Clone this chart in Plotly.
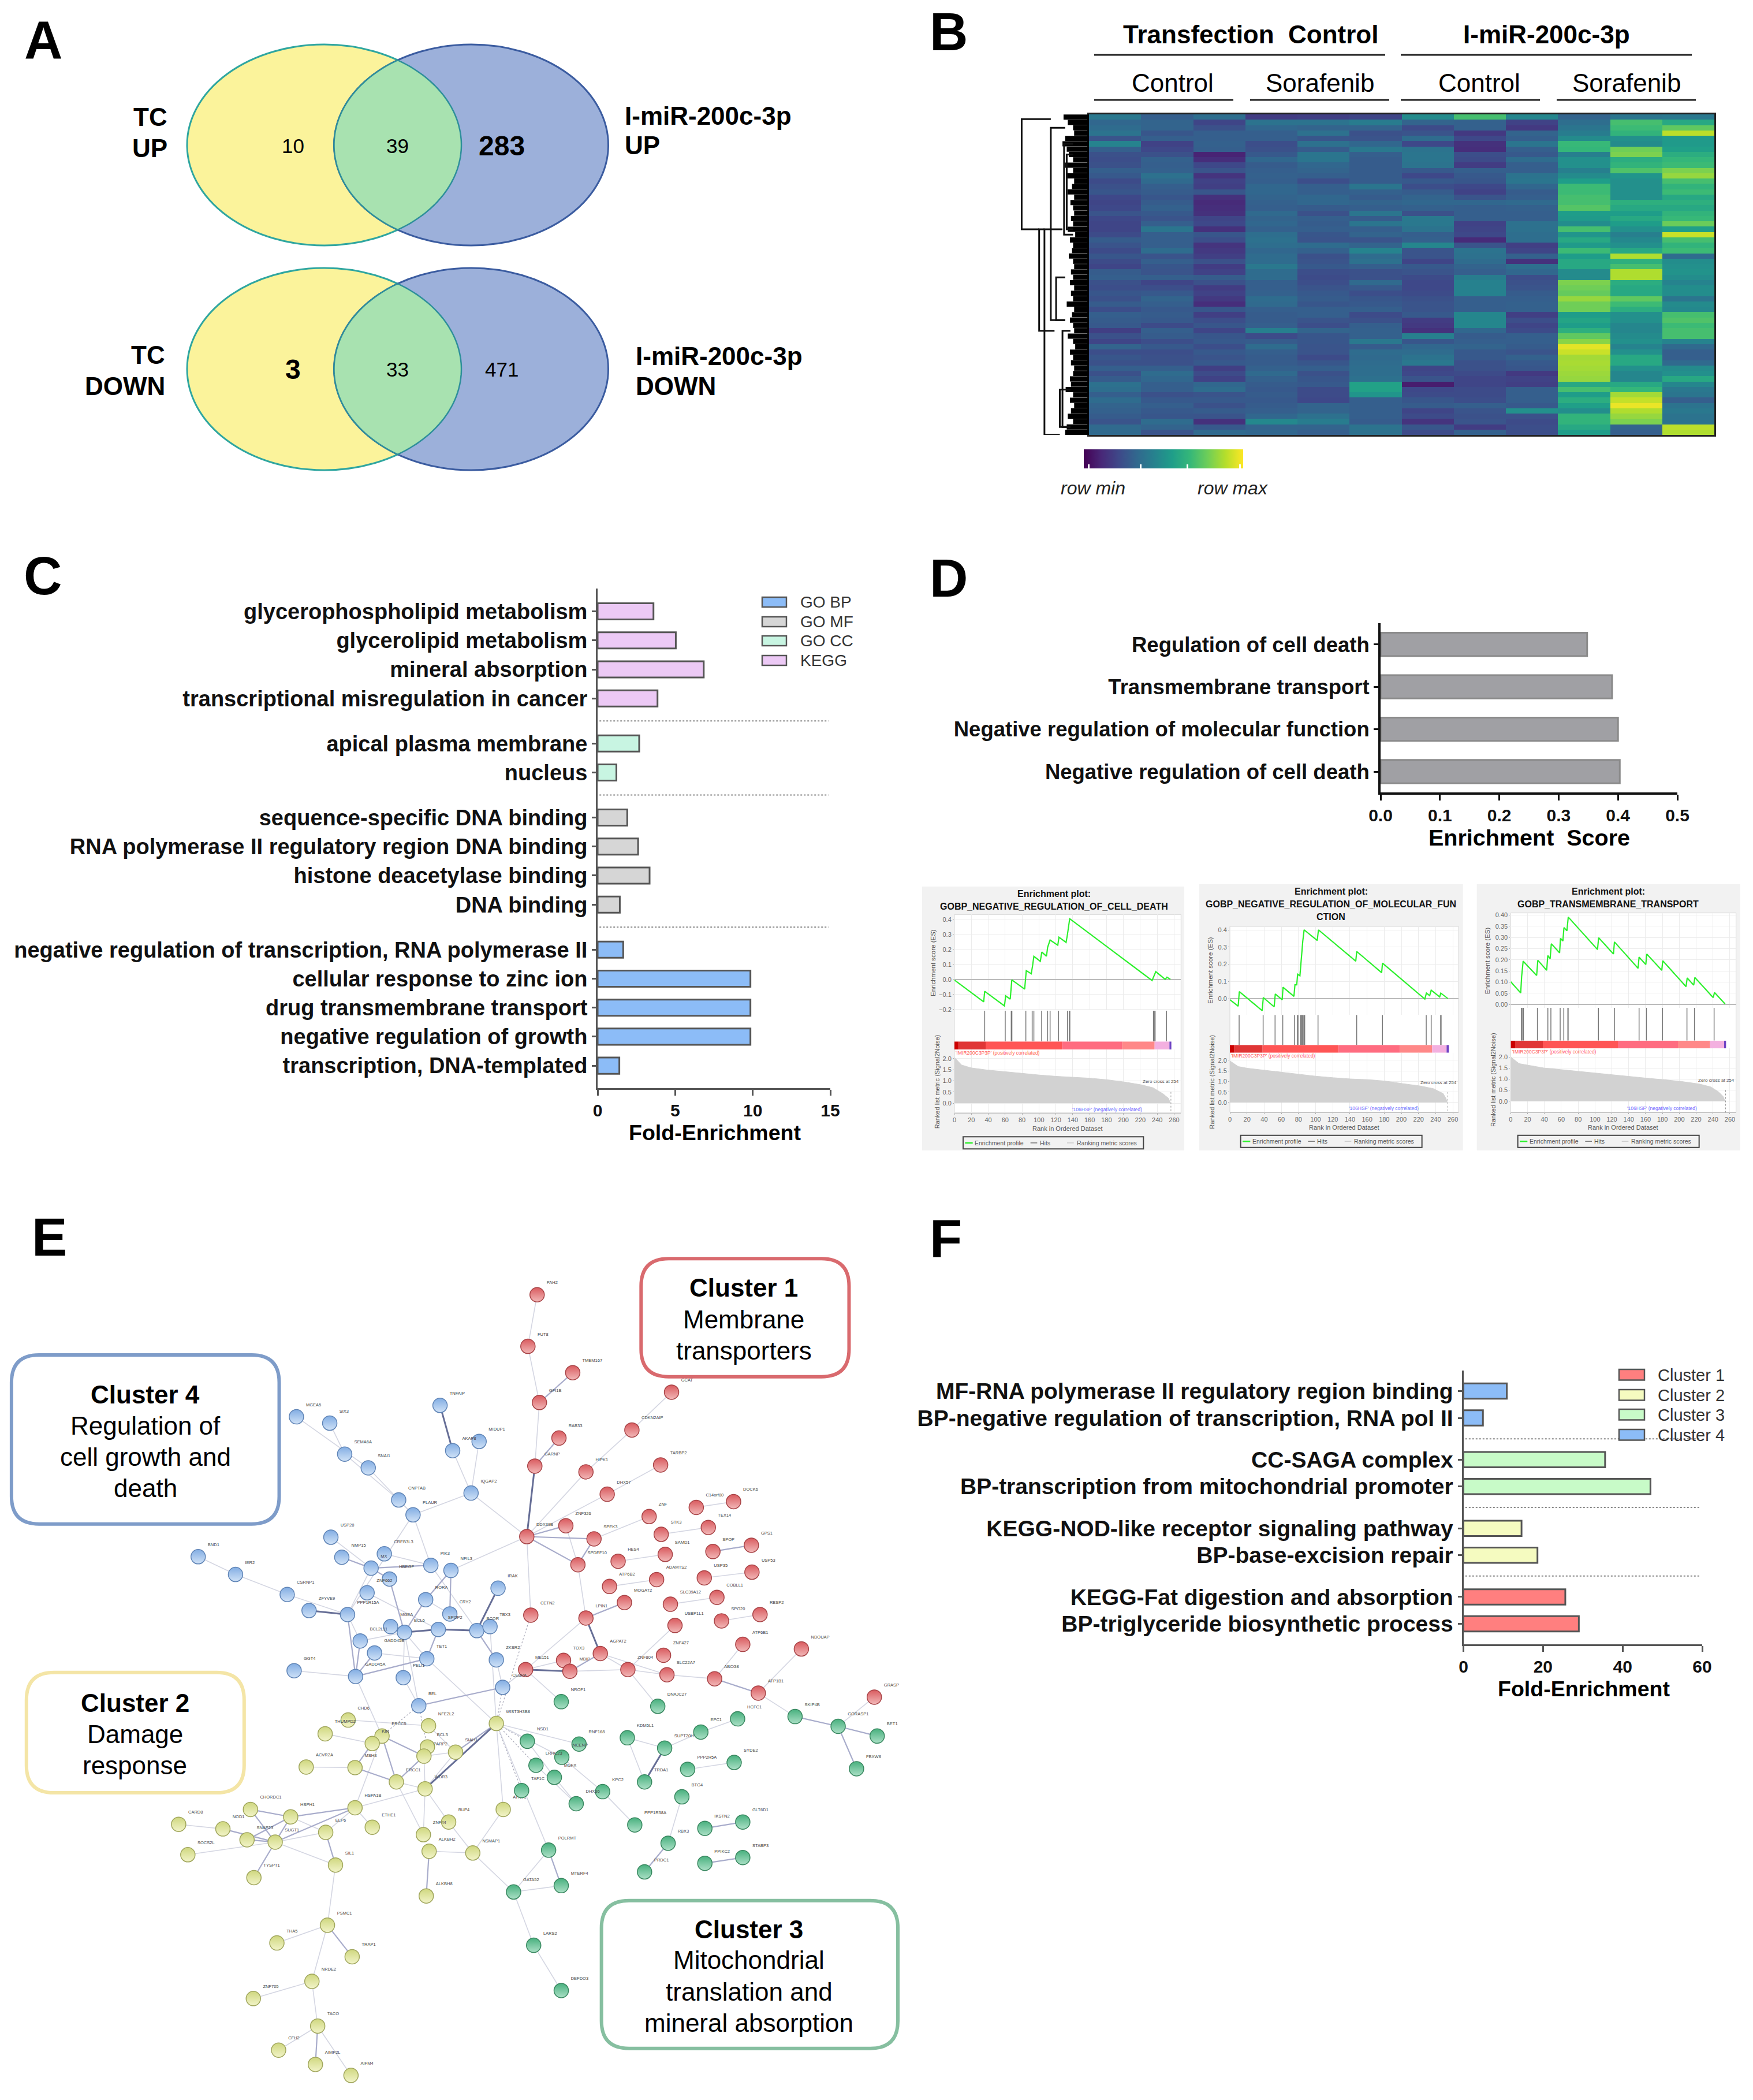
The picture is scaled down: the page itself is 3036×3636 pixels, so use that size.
import numpy as np
import plotly.graph_objects as go

W, H = 3036, 3636
FONT = "Liberation Sans"

# ---------- A: Venn counts ----------
VENN_UP = [10, 39, 283]
VENN_DOWN = [3, 33, 471]

# ---------- B: heatmap columns (row-scaled level, 0-10) ----------
HM_C1 = [4,3.3,3.5,3.8,2.6,4.5,3,2.5,2.4,2.5,3,2.8,2.3,2.5,2.7,2.2,2.1,2.2,2.6,2.2,2.1,2.1,2.3,2.9,2.6,2.3,2.7,2.3,2.1,2.9,3,2.5,2.4,2.7,2.5,2.9,2.4,3,2.9,2.8,1.9,2.5,2.1,3.2,2.4,2.7,2.5,3,2.5,2.9,3.7,3.6,3,3.5,3.2,3.1,2.9,2.6,3.4,3.4]
HM_C2 = [3,3.2,3.2,2.7,3,2,2.2,2.5,3.1,3,3.1,3.7,3.4,3,2.9,2.7,2.9,3.1,2.8,2.6,3,3.9,3,3,3,3.5,2.6,3,2.7,2.6,3,2.1,2.4,2.8,3.2,3,2.8,2.9,2.8,2.3,3,2.9,2.4,2.8,2.4,2.5,2.5,3,3.5,3.3,3,3,2.5,2.8,3,2.8,2.7,3.5,3.2,2.6]
HM_C3 = [3.6,2.1,2.5,3,3,3.1,3,1,1.3,2.2,2.6,1.5,2,1.9,2.7,1.4,1.2,1.3,1.4,2.1,2.2,1.4,2.7,2.4,1.5,1.7,1.9,2.5,1.8,2,2.9,2.5,1.8,2,1.7,1.3,2.7,1.9,2.4,2.7,2.1,2.7,2.8,2.4,2.8,2.6,2.8,1.9,2.3,2,3.3,3.5,2.6,2.8,2.5,2.9,2.6,1.4,2.8,3.4]
HM_C4 = [1.8,3.8,3.3,3,3,2.4,2.5,2.8,3.3,2.9,3,3.1,3,3.3,3.3,3.2,3.1,3,3.4,3.2,3.3,3.1,3.6,3.7,3.6,3.3,3.5,3.5,4,3.5,3.5,3,3,3.1,3.5,3.4,3,2.9,2.9,3,4.3,2.3,2.9,3.5,3,2.9,2.9,3.1,3.4,3.1,2.9,2.8,2.9,2.8,2.9,3,3.3,4.7,3.2,3.3]
HM_C5 = [1.9,3.8,3.2,3.7,2.7,3.7,2.9,3.9,3.9,3.3,3.2,3,2.4,3,3,3.3,3.3,2.9,2.5,3,2.9,3,2.7,2.6,3.5,3.1,2.5,2.6,2.8,2.4,2.3,2.4,2.6,2.8,2.9,2.7,3,3,2.6,2.4,3.2,2.7,2.7,2.6,2.6,2.3,2.7,3,2.5,2.7,2.8,2.3,2.3,2.2,3.2,3.2,3.7,4.2,3.2,3]
HM_C6 = [2.1,4.2,3.2,2.5,2.6,3.3,4,3,2.9,2.9,2.9,2.9,2.9,3.9,3.1,2.9,3.2,3,3.9,2.9,3.9,3,3.2,2.6,3.2,4.5,3.5,3.7,3,2.5,2.5,3.4,2.8,2.4,2.7,2.8,3,2.3,2.5,3,3.1,3.1,4,2.9,3.5,3.4,3.5,3.6,3.6,3.7,5.7,5.7,5.2,3,3,3,3,2.9,3.8,3.7]
HM_C7 = [4.8,3.2,2.3,2.6,3.5,2.2,3.8,3.9,3.9,3.8,2.8,2.2,2.8,2.4,2.9,3.2,3.3,3.1,2.5,4,4,3.8,3,3.1,4.6,2.6,2.6,2.1,2.8,2.6,2.3,2.2,2.2,2.3,2.5,2.6,2.6,2.8,1.8,1.7,1.4,4.3,2.7,3.3,3.5,3.8,4,2.1,2.2,2.6,0.8,2.2,2.3,2.7,2.9,2.1,2.3,1.5,2.7,2.3]
HM_C8 = [7,3.1,3.1,1.7,2.2,1.4,1.3,2.4,2.3,1.8,3,2.8,2.7,2.2,2,2.6,3.3,3,3,3,2,2.1,2.2,1.2,2.6,3.8,3.7,3.5,3.2,3,4.2,4.4,4.4,4.4,3,3,3,4.6,4.6,4.6,3.3,2.9,3,3.2,2.8,2.8,2.5,2.5,2.3,2.1,2.1,2.3,2.3,2.4,3,2.6,2.5,2.6,1.8,3.1]
HM_C9 = [4.6,2,1.7,3.2,3,3.9,3,2.8,3.5,3,3,3.8,3.9,3.3,2.9,3,3.4,3.1,3,3,3.7,3.7,3.6,3.6,1.9,2.1,3.1,1.4,3.6,3.3,2.4,2.5,2.6,2.9,3,3.1,3.1,1.9,2.4,2.1,2.3,3,3,2.9,2.6,3.1,2.8,2.7,1.7,2,1.9,3,3,3,2.8,5,2.5,2.3,2.4,2.4]
HM_C10 = [3.2,3.6,3.9,4.2,4.8,6.7,6.6,4.3,5,5,4.3,4.8,5.5,6.8,6.8,7,7,7.3,5.5,5.4,4.9,7,5.2,6,5.4,6.8,5.5,6,6,4.8,4.8,8,7.8,7.6,8.4,7.8,7.8,5.5,5.8,5.5,6.3,7.5,8.2,9.6,9.2,8.6,8.7,8.6,8.5,8.4,6,7,5.5,6.2,5.6,4.9,6.5,6.5,6,5.5]
HM_C11 = [3.9,7,6.8,6.5,5,4.8,7.8,8,6.2,6.5,7.2,5.2,5,5,5,5,6.3,6,5.5,6,5.5,5,4.3,4.7,5,6,8.8,6.3,7,8.8,8.8,6.2,6,6,7.5,6.8,6.2,5,5,4.6,4.6,4.8,5,4.5,5,6,6,5,4.6,4.6,6,6.6,8.6,9.1,9.7,8.8,8.4,8,3.2,3]
HM_C12 = [4,6,7.5,9,5.4,5.4,5.6,6.2,6.6,6.8,8,8.4,7,6.5,6.8,6,6.3,6,6.5,6.7,7.7,5.6,9.2,7,6.5,6.8,3.5,4.9,5,5.1,4.9,4.5,4.9,4.9,3.9,4.8,4.7,7,7.2,6.8,7,7,4.5,3.4,3,3,3.4,4.8,5,6,4.6,4,3.9,3,3.8,4,3.8,3.8,9,8.8]

# dendrogram: leaf reach per row, then brackets (height, top row, bottom row, child heights)
LEAF_H = [48,40,30,28,45,50,42,38,30,45,30,42,28,32,40,28,35,30,28,34,30,40,26,36,30,32,38,30,28,34,30,36,28,34,30,42,28,32,36,30,28,40,30,26,36,30,34,28,30,36,34,44,30,36,28,34,40,30,42,45]
BR_H = [127, 94, 84, 72, 62, 47, 42, 50, 55]
BR_TOP = [0.4, 21, 21, 2, 30, 5, 7, 40, 51]
BR_BOT = [21, 40, 59.5, 38, 38, 22, 21, 58, 58]
BR_TOPC = [72, 84, 50, 45, 45, 30, 30, 35, 35]
BR_BOTC = [94, 65, 55, 45, 45, 30, 30, 35, 35]

# ---------- C ----------
C_GROUPS = [
    ("KEGG", ["glycerophospholipid metabolism", "glycerolipid metabolism", "mineral absorption", "transcriptional misregulation in cancer"], [3.6, 5.04, 6.84, 3.86]),
    ("GO CC", ["apical plasma membrane", "nucleus"], [2.68, 1.21]),
    ("GO MF", ["sequence-specific DNA binding", "RNA polymerase II regulatory region DNA binding", "histone deacetylase binding", "DNA binding"], [1.91, 2.61, 3.35, 1.43]),
    ("GO BP", ["negative regulation of transcription, RNA polymerase II", "cellular response to zinc ion", "drug transmembrane transport", "negative regulation of growth", "transcription, DNA-templated"], [1.65, 9.85, 9.85, 9.85, 1.4]),
]
C_COLORS = {"GO BP": "#8cbcf7", "GO MF": "#d6d6d6", "GO CC": "#c8f5e2", "KEGG": "#ecc9f5"}
C_LEGEND = ["GO BP", "GO MF", "GO CC", "KEGG"]

# ---------- D ----------
D_TERMS = ["Regulation of cell death", "Transmembrane transport", "Negative regulation of molecular function", "Negative regulation of cell death"]
D_SCORES = [0.348, 0.39, 0.40, 0.403]

G1_RANK = [0,34.6,35.8,59.2,60.6,66,67.9,83.1,85,90.9,92.5,94,101.6,103.4,108.9,110.3,113.2,122.3,123.7,132.1,133.7,136.4,233.9,238.3,249.4,251.5,255.6]
G1_ES = [-.005,-.15,-.08,-.177,-.11,-.132,-.004,-.065,.058,.037,.092,.153,.12,.182,.154,.214,.262,.227,.281,.246,.297,.404,-.008,.051,0,.014,0]
G1_HITS = [35.8,60.1,67.2,68,84.5,92,94,103.2,110.3,113.2,123.2,133.7,136,136.6,235.5,236.5,237.5,251]
G1_MR = [0,8.4,19.8,39.6,59.6,79.7,100.7,121,139.4,159.9,180.4,200.9,221.4,235,246.4,253.3,255.6]
G1_MV = [2.05,1.71,1.58,1.48,1.41,1.33,1.26,1.2,1.16,1.12,1.05,.95,.82,.69,.43,.22,0]

G2_RANK = [0,9.7,11,37.7,39,51.6,53,61,62,74.7,75.9,78,79,81.7,85,86.6,101.9,103.3,146.8,148,177,178,227.4,229.2,233,234.8,244.7,246,254.3]
G2_ES = [-.006,-.044,.041,-.07,.006,-.048,.027,-.007,.066,.013,.08,.08,.142,.133,.333,.4,.338,.4,.218,.274,.151,.206,-.003,.032,.017,.049,.01,.032,0]
G2_HITS = [10.8,38.8,52.7,61.7,75.4,78.6,79.5,82.6,83.5,84.2,85,86.2,87.3,102.8,147.9,178,229,234.8,245.8,246.4]
G2_MR = [0,9.7,20.2,40,60,80.3,100.6,120.8,141,161,181.3,201.5,221.8,237.5,248.7,252,253.6]
G2_MV = [1.98,1.71,1.63,1.54,1.43,1.34,1.25,1.18,1.12,1.09,1.02,.9,.79,.66,.43,.2,0]

G3_RANK = [0,11.9,13,14.8,30.8,32.2,42.7,44,46.8,48.2,58,59.1,61.9,63.2,66.7,68.3,103,104.3,121.9,123.1,151.1,152.3,160.3,161.4,179.2,180.4,208,209.4,217.1,218.5,240.2,241.8,254.3]
G3_ES = [.102,.052,.126,.194,.13,.198,.153,.219,.205,.272,.231,.296,.284,.344,.33,.391,.246,.299,.226,.28,.162,.212,.179,.226,.153,.196,.08,.119,.087,.121,.031,.054,.003]
G3_HITS = [12.6,13.5,15.1,31.7,44.1,47.7,58.7,63,67.8,68.2,104.1,123.1,152.3,161,180.1,209.1,218,241.3]
G3_MR = [0,10,20.3,39.7,59.1,79.7,100.2,120.8,141.3,161.9,182.4,203,223.5,237.2,246.3,252,254.3]
G3_MV = [2.0,1.7,1.63,1.5,1.43,1.35,1.26,1.19,1.11,1.04,.97,.89,.78,.65,.43,.22,0]

BAND_COLORS = ["#cc0000", "#e03636", "#ff5555", "#ff6c80", "#ff8888", "#f3b0e0", "#7044c4"]

# ---------- E: network ----------
C1 = [("PAH2",935,163),("FUT8",919,253),("TMEM167",997,299),("GFI1B",939,351),("GCAT",1169,333),("CDKN2AIP",1100,399),("RAB33",973,413),("GARNP",931,462),("HIPK1",1020,472),("TARBP2",1150,460),("DHX57",1057,511),("C14orf80",1212,534),("DOCK6",1277,524),("ZNF",1130,550),("ZNF326",985,566),("STK3",1151,581),("TEX14",1233,569),("DDX39B",917,585),("SPEK3",1034,589),("SPOP",1241,611),("GPS1",1308,600),("SAMD1",1158,616),("HES4",1076,628),("SPDEF10",1006,634),("USP35",1226,657),("USP53",1309,647),("ADAMTS2",1143,660),("ATP6B2",1061,672),("MOGAT2",1087,700),("COBLL1",1248,691),("SLC39A12",1167,703),("RBSP2",1323,721),("SPG20",1256,732),("CETN2",924,722),("LPIN1",1020,727),("USBP1L1",1175,740),("ATP6B1",1293,773),("NDOUAP",1395,781),("AGPAT2",1045,789),("ZNF427",1155,792),("TOX3",981,801),("MBIP",992,820),("ME151",915,817),("ZNF804",1093,817),("SLC22A7",1161,826),("ABCG8",1244,833),("ATP1B1",1320,858),("GRASP",1522,865)]
C4 = [("MGEA5",516,376),("SIX3",574,387),("SEMA6A",600,441),("SNAI1",641,465),("TNFAIP",766,356),("AKAP8",788,435),("MIDUP1",834,419),("IQGAP2",820,509),("CNPTAB",694,521),("PLAUR",719,547),("USP28",576,586),("NMP15",595,621),("CREB3L3",669,615),("MX",646,640),("HBEGF",678,659),("PIK3",750,635),("NFIL3",785,644),("BND1",345,620),("IER2",410,651),("CSRNP1",500,686),("ZNF662",639,683),("RORA",741,695),("IRAK",867,675),("ZFYVE9",538,714),("PPP1R15A",605,721),("CRY2",783,720),("MGEA",680,742),("BCL6",704,752),("SPOP2",763,747),("BCOR",830,749),("TBX3",853,742),("BCL2L11",627,767),("GADD45B",652,788),("TET1",743,798),("ZKSR2",864,800),("GADD45A",619,829),("GGT4",512,819),("PELI1",702,831),("CEBPA",875,848),("BEL",729,880)]
C2 = [("CHD6",606,905),("THUMPD2",566,929),("NFE2L2",746,915),("ERCC5",665,933),("KIN",648,946),("BCL3",744,952),("PARP2",738,968),("SIAH1",793,961),("ACVR2A",533,987),("MSH3",618,988),("ERCC1",690,1013),("WDR3",740,1025),("WIST3H3B8",864,911),("ATNT1",876,1061),("HSPA1B",618,1058),("ETHE1",648,1092),("CHORDC1",436,1061),("HSPH1",506,1074),("CARD8",311,1087),("NOD1",388,1095),("SNAP23",430,1114),("SUGT1",479,1118),("ELP6",567,1101),("BUP4",781,1083),("ZNF44",737,1105),("ALKBH2",747,1134),("NSMAP1",823,1137),("SOCS2L",327,1140),("SIL1",584,1158),("TYSPT1",442,1180),("ALKBH8",742,1212),("PSMC1",570,1263),("THA5",482,1294),("TRAP1",613,1318),("NRDE2",543,1361),("ZNF705",441,1391),("TACO",553,1439),("CFH2",485,1481),("AIMP2L",549,1506),("AIFM4",611,1525)]
C3 = [("NROF1",977,873),("DNAJC27",1145,881),("HCFC1",1284,903),("SKIP4B",1384,899),("GORASP1",1459,916),("BET1",1527,933),("FBXW8",1491,990),("EPC1",1220,926),("KDM5L1",1092,936),("SUPT20H",1157,954),("TRDA1",1122,1013),("PPP2R5A",1197,991),("SYDE2",1278,979),("NSD1",918,942),("RNF168",1008,947),("INCENP",978,970),("LRRC23",933,984),("MGFX",965,1005),("TAF1C",908,1028),("KPC2",1049,1030),("DHX36",1003,1051),("PPP1R38A",1105,1088),("BTG4",1187,1039),("POLRMT",955,1132),("MTERF4",977,1194),("RBX3",1163,1120),("PRDC1",1122,1170),("IKSTN2",1227,1094),("GLT6D1",1293,1083),("PPIKC2",1227,1155),("STABP3",1293,1145),("GATA52",894,1205),("LARS2",929,1298),("DEFDO3",977,1377)]

E_WEAK = "PAH2-FUT8 FUT8-GFI1B GFI1B-GARNP HIPK1-DDX39B CDKN2AIP-HIPK1 GCAT-CDKN2AIP DHX57-DDX39B TARBP2-DHX57 ZNF-SPEK3 ZNF326-SPDEF10 SPDEF10-LPIN1 DDX39B-CETN2 C14orf80-DOCK6 STK3-TEX14 HES4-SAMD1 USP35-USP53 ATP6B2-ADAMTS2 SLC39A12-COBLL1 SPG20-RBSP2 ME151-TOX3 AGPAT2-ZNF804 ZNF804-USBP1L1 MBIP-ZNF804 ZNF804-SLC22A7 AGPAT2-SLC22A7 SLC22A7-ABCG8 ABCG8-ATP6B1 ATP1B1-NDOUAP ATP1B1-SKIP4B ZNF804-DNAJC27 ME151-NROF1 LPIN1-ME151 MGEA5-SNAI1 SIX3-SEMA6A SEMA6A-CNPTAB SNAI1-PLAUR CNPTAB-PLAUR AKAP8-IQGAP2 MIDUP1-IQGAP2 IQGAP2-PLAUR PLAUR-PIK3 PLAUR-PPP1R15A USP28-MX CREB3L3-PIK3 MX-PPP1R15A ZNF662-SPOP2 BND1-IER2 IER2-CSRNP1 CSRNP1-PPP1R15A PPP1R15A-BCL2L11 GADD45B-TET1 BCL2L11-BCL6 MGEA-BCL6 PIK3-BCOR RORA-CRY2 ZKSR2-CEBPA GGT4-GADD45A BCL6-TET1 BCL6-PELI1 BCL6-BEL PELI1-BEL CEBPA-ME151 CHD6-NFE2L2 THUMPD2-KIN ERCC5-KIN ACVR2A-MSH3 PARP2-SIAH1 BCL3-PARP2 PARP2-WDR3 NFE2L2-SIAH1 WDR3-ERCC1 SIAH1-WDR3 WDR3-HSPA1B HSPA1B-ELP6 HSPA1B-ERCC5 HSPA1B-ETHE1 HSPH1-ELP6 CARD8-NOD1 SUGT1-SOCS2L SUGT1-ELP6 SUGT1-SIL1 SIL1-PSMC1 PSMC1-THA5 PSMC1-NRDE2 NRDE2-ZNF705 NRDE2-TACO TACO-CFH2 TACO-AIFM4 WDR3-BUP4 WDR3-ZNF44 ERCC1-ZNF44 ALKBH2-NSMAP1 BUP4-NSMAP1 ATNT1-NSMAP1 ATNT1-WIST3H3B8 WIST3H3B8-RNF168 WIST3H3B8-INCENP WIST3H3B8-POLRMT NSD1-MGFX INCENP-KPC2 KPC2-PPP1R38A LRRC23-DHX36 MGFX-DHX36 POLRMT-GATA52 MTERF4-GATA52 GATA52-LARS2 LARS2-DEFDO3 KDM5L1-SUPT20H KDM5L1-TRDA1 SUPT20H-EPC1 EPC1-HCFC1 PPP2R5A-SYDE2 BTG4-RBX3 GORASP1-GRASP NSMAP1-GATA52 IQGAP2-DDX39B NFIL3-DDX39B TBX3-WIST3H3B8 TET1-WIST3H3B8 GADD45A-ERCC5".split()
E_MID = "TMEM167-GFI1B RAB33-GARNP ZNF326-DDX39B SPEK3-DDX39B SPDEF10-DDX39B SPDEF10-SPEK3 SPOP-GPS1 LPIN1-MOGAT2 AGPAT2-MBIP ABCG8-ATP1B1 NMP15-MX MX-PIK3 MX-HBEGF HBEGF-BCL6 NFIL3-RORA NFIL3-CRY2 RORA-BCL6 PPP1R15A-GADD45A BCL2L11-GADD45A GADD45B-GADD45A BCOR-ZKSR2 SPOP2-TET1 TET1-GADD45A BEL-CEBPA KIN-MSH3 ERCC5-ERCC1 ERCC5-PARP2 MSH3-ERCC1 ERCC1-PARP2 SIAH1-WIST3H3B8 HSPA1B-HSPH1 HSPA1B-SUGT1 CHORDC1-HSPH1 CHORDC1-SUGT1 HSPH1-SUGT1 HSPH1-SNAP23 NOD1-SUGT1 SNAP23-SUGT1 SUGT1-TYSPT1 ELP6-SIL1 PSMC1-TRAP1 TACO-AIMP2L ALKBH2-ALKBH8 POLRMT-MTERF4 RBX3-PRDC1 IKSTN2-GLT6D1 PPIKC2-STABP3 SKIP4B-GORASP1 GORASP1-BET1 GORASP1-FBXW8".split()
E_STRONG = "GARNP-DDX39B LPIN1-AGPAT2 ME151-MBIP TNFAIP-AKAP8 ZFYVE9-PPP1R15A BCL6-SPOP2 SPOP2-BCOR IRAK-BCOR WDR3-WIST3H3B8 SUPT20H-TRDA1".split()
E_DOT = "CETN2-WIST3H3B8 CEBPA-WIST3H3B8 BEL-KIN BEL-BCL3 WIST3H3B8-NSD1 WIST3H3B8-LRRC23 WIST3H3B8-TAF1C".split()

# ---------- F ----------
F_GROUPS = [
    ("Cluster 4", ["MF-RNA polymerase II regulatory region binding", "BP-negative regulation of transcription, RNA pol II"], [10.9, 4.9]),
    ("Cluster 3", ["CC-SAGA complex", "BP-transcription from mitochondrial promoter"], [35.6, 47]),
    ("Cluster 2", ["KEGG-NOD-like receptor signaling pathway", "BP-base-excision repair"], [14.6, 18.6]),
    ("Cluster 1", ["KEGG-Fat digestion and absorption", "BP-triglyceride biosynthetic process"], [25.6, 29]),
]
F_COLORS = {"Cluster 1": "#ff7f7f", "Cluster 2": "#f5fbc0", "Cluster 3": "#c8fbc8", "Cluster 4": "#8cbcf7"}
F_LEGEND = ["Cluster 1", "Cluster 2", "Cluster 3", "Cluster 4"]

# ======================================================================
fig = go.Figure()
layout = dict(width=W, height=H, margin=dict(l=0, r=0, t=0, b=0, autoexpand=False), autosize=False,
              paper_bgcolor="white", plot_bgcolor="rgba(0,0,0,0)", showlegend=False,
              barmode="overlay", font=dict(family=FONT), hovermode=False)
shapes, notes = [], []
_n = 0


def axes(box, xr, yr, xo=None, yo=None):
    global _n
    _n += 1
    s = "" if _n == 1 else str(_n)
    x0, y0, x1, y1 = box
    base = dict(showgrid=False, zeroline=False, showticklabels=False, ticks="", showline=False, fixedrange=True)
    layout["xaxis" + s] = {**base, "domain": [x0 / W, x1 / W], "range": xr, "anchor": "y" + s, **(xo or {})}
    layout["yaxis" + s] = {**base, "domain": [1 - y1 / H, 1 - y0 / H], "range": yr, "anchor": "x" + s, **(yo or {})}
    return "x" + s, "y" + s


def text(x, y, s, size, bold=False, anchor="center", color="#000", italic=False, angle=0, xref="paper", yref="paper"):
    px = x / W if xref == "paper" else x
    py = 1 - y / H if yref == "paper" else y
    f = dict(family=FONT, size=size, color=color)
    if bold:
        f["weight"] = "bold"
    if italic:
        f["style"] = "italic"
    notes.append(dict(x=px, y=py, xref=xref, yref=yref, text=s, showarrow=False, font=f,
                      xanchor=anchor, yanchor="middle", textangle=angle, borderpad=0, borderwidth=0))


def rect(x0, y0, x1, y1, fill="rgba(0,0,0,0)", line="rgba(0,0,0,0)", lw=0, layer="below"):
    shapes.append(dict(type="rect", xref="paper", yref="paper", x0=x0 / W, x1=x1 / W, y0=1 - y0 / H, y1=1 - y1 / H,
                       fillcolor=fill, line=dict(color=line, width=lw), layer=layer))


def hline(x0, x1, y, color="#222", lw=3, dash="solid"):
    shapes.append(dict(type="line", xref="paper", yref="paper", x0=x0 / W, x1=x1 / W, y0=1 - y / H, y1=1 - y / H,
                       line=dict(color=color, width=lw, dash=dash), layer="above"))


# ---------- panel letters ----------
for l, x, y in [("A", 75, 69), ("B", 1643, 55), ("C", 74, 997), ("D", 1643, 1001), ("E", 85, 2142), ("F", 1638, 2144)]:
    text(x, y, l, 92, bold=True)

# ---------- A ----------
page_x, page_y = axes((0, 0, W, H), [0, W], [H, 0])


def venn(cy, ry, vals, big):
    ycx, bcx, rx = 561.5, 816, 237.5
    for cx, fc, lc in [(ycx, "#fbf39b", "#2fa6a0"), (bcx, "#9cb0da", "#3b5ca0")]:
        shapes.append(dict(type="circle", xref=page_x, yref=page_y, x0=cx - rx, x1=cx + rx, y0=cy - ry, y1=cy + ry,
                           fillcolor=fc, line=dict(color=lc, width=3), layer="below"))
    ytop = ry * np.sqrt(1 - ((bcx - ycx) / 2 / rx) ** 2)
    ys = np.linspace(-ytop, ytop, 80)
    xr = ycx + rx * np.sqrt(1 - (ys / ry) ** 2)
    xl = bcx - rx * np.sqrt(1 - (ys / ry) ** 2)
    pts = list(zip(xr, ys + cy)) + list(zip(xl[::-1], ys[::-1] + cy))
    path = "M" + " L".join(f"{a:.1f},{b:.1f}" for a, b in pts) + " Z"
    shapes.append(dict(type="path", xref=page_x, yref=page_y, path=path, fillcolor="#a8e2b0",
                       line=dict(color="#2e8f9a", width=2.5), layer="below"))
    for v, x in zip(vals, [507, 688, 869]):
        if v == big:
            text(x, cy + 1, str(v), 48, bold=True)
        else:
            text(x, cy + 1, str(v), 35)


venn(251, 174, VENN_UP, 283)
venn(639, 175, VENN_DOWN, 3)
text(290, 202, "TC", 44, bold=True, anchor="right")
text(290, 257, "UP", 44, bold=True, anchor="right")
text(1082, 200, "I-miR-200c-3p", 44, bold=True, anchor="left")
text(1082, 251, "UP", 44, bold=True, anchor="left")
text(286, 615, "TC", 44, bold=True, anchor="right")
text(286, 669, "DOWN", 44, bold=True, anchor="right")
text(1101, 617, "I-miR-200c-3p", 44, bold=True, anchor="left")
text(1101, 669, "DOWN", 44, bold=True, anchor="left")

# ---------- B ----------
hm_cols = [HM_C1, HM_C2, HM_C3, HM_C4, HM_C5, HM_C6, HM_C7, HM_C8, HM_C9, HM_C10, HM_C11, HM_C12]
z = np.array(hm_cols).T
frame = dict(showline=True, linecolor="#222", linewidth=3, mirror=True)
xa, ya = axes((1886, 198, 2969, 753), [-0.5, 11.5], [59.5, -0.5], frame, frame)
fig.add_trace(go.Heatmap(z=z, xaxis=xa, yaxis=ya, colorscale="Viridis", zmin=0, zmax=10, hoverinfo="skip",
                         colorbar=dict(orientation="h", x=1877 / W, xanchor="left", y=1 - 778 / H, yanchor="top",
                                       len=276, lenmode="pixels", thickness=33, thicknessmode="pixels",
                                       xpad=0, ypad=0, outlinewidth=0, showticklabels=False, ticks="inside",
                                       tickcolor="white", ticklen=7, tickwidth=3, tickmode="array",
                                       tickvals=[0.3, 3.56, 6.5, 9.8])))
xd, yd = axes((1768, 198, 1886, 753), [128.5, 0], [59.5, -0.5])
lx, ly = [], []
for i, h in enumerate(LEAF_H):
    lx += [h, 0, None]
    ly += [i, i, None]
fig.add_trace(go.Scatter(x=lx, y=ly, xaxis=xd, yaxis=yd, mode="lines", line=dict(color="#000", width=9), hoverinfo="skip"))
bx, by = [], []
for h, t, b, tc, bc in zip(BR_H, BR_TOP, BR_BOT, BR_TOPC, BR_BOTC):
    bx += [tc, h, h, bc, None]
    by += [t, t, b, b, None]
fig.add_trace(go.Scatter(x=bx, y=by, xaxis=xd, yaxis=yd, mode="lines", line=dict(color="#111", width=3), hoverinfo="skip"))
text(2166, 59, "Transfection  Control", 44, bold=True)
text(2678, 59, "I-miR-200c-3p", 44, bold=True)
for x, s in [(2031, "Control"), (2286, "Sorafenib"), (2562, "Control"), (2817, "Sorafenib")]:
    text(x, 143.5, s, 44)
for a, b in [(1895, 2399), (2426, 2930)]:
    hline(a, b, 95)
for a, b in [(1895, 2136), (2165, 2406), (2426, 2667), (2696, 2937)]:
    hline(a, b, 173)
text(1893, 845, "row min", 32, italic=True, color="#222")
text(2135, 845, "row max", 32, italic=True, color="#222")


# ---------- bar helper ----------
def group_positions(groups, gap):
    pos, p = [], 0.0
    mids = []
    for g, (_, terms, _v) in enumerate(groups):
        if g:
            mids.append(p - 1 + gap / 2)
            p += gap - 1
        pos.append([p + i for i in range(len(terms))])
        p += len(terms)
    return pos, mids


def hbars(groups, colors, gap, box, xr, xtick, over, under, width, tickfont, ticklen=9):
    pos, mids = group_positions(groups, gap)
    last = pos[-1][-1]
    xo = dict(showline=True, linecolor="#555", linewidth=3, ticks="outside", ticklen=10, tickwidth=3, tickcolor="#555",
              showticklabels=True, tickmode="array", tickvals=xtick, tickfont=dict(family=FONT, size=30, color="#111", weight="bold"))
    yo = dict(showline=True, linecolor="#555", linewidth=3, ticks="outside", ticklen=ticklen, tickwidth=3, tickcolor="#555",
              showticklabels=True, tickmode="array", tickfont=tickfont,
              tickvals=[p for ps in pos for p in ps], ticktext=[t for g in groups for t in g[1]])
    xa, ya = axes(box, xr, [last + under, -over], xo, yo)
    for (name, terms, vals), ps in zip(groups, pos):
        fig.add_trace(go.Bar(x=vals, y=ps, orientation="h", width=width, name=name, xaxis=xa, yaxis=ya,
                             marker=dict(color=colors[name], line=dict(color="#555", width=3)), hoverinfo="skip"))
    for m in mids:
        shapes.append(dict(type="line", xref=xa, yref=ya, x0=xr[1] * 0.008, x1=xr[1] * 0.992, y0=m, y1=m,
                           line=dict(color="#888", width=2, dash="dot"), layer="above"))
    return xa, ya


labfont = dict(family=FONT, size=38, color="#111", weight="bold")
hbars(C_GROUPS, C_COLORS, 1.553, (1035, 1019, 1438, 1884), [0, 15], [0, 5, 10, 15], 0.787, 0.773, 0.56, labfont, ticklen=7)
text(1238, 1961, "Fold-Enrichment", 37.5, bold=True)
for i, (name, y0) in enumerate(zip(C_LEGEND, [1034, 1068, 1101, 1135])):
    rect(1320, y0, 1362, y0 + 17, fill=C_COLORS[name], line="#555", lw=2.5)
    text(1386, y0 + 8.5, name, 28, color="#333", anchor="left")

# ---------- D ----------
d_xo = dict(showline=True, linecolor="#111", linewidth=4, ticks="outside", ticklen=10, tickwidth=3, tickcolor="#111",
            showticklabels=True, dtick=0.1, tickformat=".1f", tickfont=dict(family=FONT, size=30, color="#111", weight="bold"))
d_yo = dict(showline=True, linecolor="#111", linewidth=4, ticks="outside", ticklen=8, tickwidth=3, tickcolor="#111",
            showticklabels=True, tickmode="array", tickvals=list(range(4)), ticktext=D_TERMS,
            tickfont=dict(family=FONT, size=36.5, color="#111", weight="bold"))
xa, ya = axes((2391, 1079, 2905, 1372), [0, 0.5], [3.49, -0.5], d_xo, d_yo)
fig.add_trace(go.Bar(x=D_SCORES, y=list(range(4)), orientation="h", width=0.55, xaxis=xa, yaxis=ya,
                     marker=dict(color="#a0a0a4", line=dict(color="#8a8a8a", width=3)), hoverinfo="skip"))
text(2648, 1450, "Enrichment  Score", 39.5, bold=True)

# ---------- D: GSEA panels ----------
GSEA = [
    dict(ox=1597, oy=1530, bg=(0, 15, 1362, 1385), left=168, right=1345, scale=4.39, es=(160, 658), esz=497, esu=780,
         hit=(660, 820), band=(820, 862), met=(862, 1190), m0=1140, mu=116, edges=[168, 190, 330, 727, 1040, 1208, 1285, 1295],
         titles=[(52, "Enrichment plot:"), (117, "GOBP_NEGATIVE_REGULATION_OF_CELL_DEATH")], tx=685,
         rank=G1_RANK, esv=G1_ES, hits=G1_HITS, mr=G1_MR, mv=G1_MV, dt=0.1, fmt=".1f",
         xlab=(757, 1272), yes=(55, 410), ymet=(78, 1030), leg=(213, 1150, 1315, 1378), pos=(175, 880), neg=(960, 1173), zero=(1335, 1028)),
    dict(ox=2076, oy=1530, bg=(3, 3, 1373, 1385), left=162, right=1350, scale=4.455, es=(222, 682), esz=597, esu=892.5,
         hit=(682, 838), band=(838, 878), met=(878, 1188), m0=1137, mu=109.5, edges=[162, 185, 332, 727, 1045, 1213, 1288, 1300],
         titles=[(42, "Enrichment plot:"), (107, "GOBP_NEGATIVE_REGULATION_OF_MOLECULAR_FUN"), (172, "CTION")], tx=688,
         rank=G2_RANK, esv=G2_ES, hits=G2_HITS, mr=G2_MR, mv=G2_MV, dt=0.1, fmt=".1f",
         xlab=(757, 1265), yes=(60, 450), ymet=(70, 1030), leg=(218, 1160, 1307, 1370), pos=(168, 893), neg=(962, 1166), zero=(1342, 1032)),
    dict(ox=2556, oy=1530, bg=(5, 3, 1373, 1385), left=181, right=1352, scale=4.38, es=(152, 645), esz=628, esu=1162,
         hit=(645, 815), band=(815, 856), met=(856, 1188), m0=1130, mu=115, edges=[181, 204, 348, 738, 1050, 1217, 1290, 1300],
         titles=[(42, "Enrichment plot:"), (107, "GOBP_TRANSMEMBRANE_TRANSPORT")], tx=688,
         rank=G3_RANK, esv=G3_ES, hits=G3_HITS, mr=G3_MR, mv=G3_MV, dt=0.05, fmt=".2f",
         xlab=(766, 1265), yes=(60, 400), ymet=(90, 1020), leg=(218, 1160, 1307, 1370), pos=(188, 873), neg=(968, 1166), zero=(1345, 1020)),
]
TICKF = dict(family=FONT, size=11, color="#666")
for P in GSEA:
    fx = lambda v: P["ox"] + v / 3
    fy = lambda v: P["oy"] + v / 3
    rect(fx(P["bg"][0]), fy(P["bg"][1]), fx(P["bg"][2]), fy(P["bg"][3]), fill="#f2f2f2")
    rect(fx(P["left"]), fy(P["es"][0]), fx(P["right"]), fy(P["met"][1]), fill="white", line="#d8d8d8", lw=1)
    xmax = (P["right"] - P["left"]) / P["scale"]
    grid = dict(showgrid=True, gridcolor="#ececec", gridwidth=1)
    # enrichment score
    eb = (fx(P["left"]), fy(P["es"][0]), fx(P["right"]), fy(P["es"][1]))
    er = [(P["esz"] - P["es"][1]) / P["esu"], (P["esz"] - P["es"][0]) / P["esu"]]
    xa, ya = axes(eb, [0, xmax], er, {**grid, "dtick": 20},
                  {**grid, "showticklabels": True, "dtick": P["dt"], "tickformat": P["fmt"], "tickfont": TICKF,
                   "ticks": "outside", "ticklen": 2, "tickcolor": "#aaa", "zeroline": True, "zerolinecolor": "#bbb", "zerolinewidth": 1.5})
    fig.add_trace(go.Scatter(x=P["rank"], y=P["esv"], xaxis=xa, yaxis=ya, mode="lines", line=dict(color="#2cf02c", width=2.2), hoverinfo="skip"))
    # hits
    xa, ya = axes((fx(P["left"]), fy(P["hit"][0]), fx(P["right"]), fy(P["hit"][1])), [0, xmax], [0, 1])
    hx, hy = [], []
    for h in P["hits"]:
        hx += [h, h, None]
        hy += [0, 1, None]
    fig.add_trace(go.Scatter(x=hx, y=hy, xaxis=xa, yaxis=ya, mode="lines", line=dict(color="#777", width=1.5), hoverinfo="skip"))
    # colour band
    xa, ya = axes((fx(P["left"]), fy(P["band"][0]), fx(P["right"]), fy(P["band"][1])), [0, xmax], [-0.5, 0.5])
    e = [(v - P["left"]) / P["scale"] for v in P["edges"]]
    fig.add_trace(go.Bar(y=[0] * 7, x=[b - a for a, b in zip(e[:-1], e[1:])], base=e[:-1], orientation="h", width=1,
                         xaxis=xa, yaxis=ya, marker=dict(color=BAND_COLORS, line=dict(width=0)), hoverinfo="skip"))
    # metric
    mr = [(P["m0"] - P["met"][1]) / P["mu"], (P["m0"] - P["met"][0]) / P["mu"]]
    xa, ya = axes((fx(P["left"]), fy(P["met"][0]), fx(P["right"]), fy(P["met"][1])), [0, xmax], mr,
                  {**grid, "dtick": 20, "showticklabels": True, "tickfont": TICKF, "ticks": "outside", "ticklen": 2, "tickcolor": "#aaa", "showline": True, "linecolor": "#bbb"},
                  {**grid, "showticklabels": True, "tickvals": [0, 0.5, 1, 1.5, 2], "tickformat": ".1f", "tickfont": TICKF, "ticks": "outside", "ticklen": 2, "tickcolor": "#aaa"})
    fig.add_trace(go.Scatter(x=P["mr"], y=P["mv"], xaxis=xa, yaxis=ya, mode="lines", fill="tozeroy", fillcolor="#d2d2d2",
                             line=dict(color="#d2d2d2", width=1), hoverinfo="skip"))
    zr = P["mr"][-1] + 0.6
    fig.add_trace(go.Scatter(x=[zr, zr], y=[0.5, mr[0]], xaxis=xa, yaxis=ya, mode="lines", line=dict(color="#999", width=1, dash="dot"), hoverinfo="skip"))
    # texts
    for ty, s in P["titles"]:
        text(fx(P["tx"]), fy(ty), s, 16, bold=True, color="#111")
    text(fx(P["xlab"][0]), fy(P["xlab"][1]), "Rank in Ordered Dataset", 11, color="#555")
    text(fx(P["yes"][0]), fy(P["yes"][1]), "Enrichment score (ES)", 11.5, color="#555", angle=-90)
    text(fx(P["ymet"][0]), fy(P["ymet"][1]), "Ranked list metric (Signal2Noise)", 11, color="#555", angle=-90)
    text(fx(P["pos"][0]), fy(P["pos"][1]), "'IMIR200C3P3P' (positively correlated)", 8.5, color="#ff5a5a", anchor="left")
    text(fx(P["neg"][0]), fy(P["neg"][1]), "'106HSF' (negatively correlated)", 8.5, color="#6a6aff")
    text(fx(P["zero"][0]), fy(P["zero"][1]), "Zero cross at 254", 8, color="#555", anchor="right")
    lx0, lx1, ly0, ly1 = P["leg"]
    rect(fx(lx0), fy(ly0), fx(lx1), fy(ly1), fill="#f2f2f2", line="#444", lw=2, layer="above")
    lyc = fy((ly0 + ly1) / 2)
    hline(fx(lx0 + 10), fx(lx0 + 50), lyc, color="#2cf02c", lw=2.5)
    text(fx(lx0 + 60), lyc, "Enrichment profile", 10.5, color="#555", anchor="left")
    hline(fx(lx0 + 350), fx(lx0 + 385), lyc, color="#777", lw=1.5)
    text(fx(lx0 + 398), lyc, "Hits", 10.5, color="#555", anchor="left")
    hline(fx(lx0 + 540), fx(lx0 + 575), lyc, color="#ccc", lw=1.5)
    text(fx(lx0 + 590), lyc, "Ranking metric scores", 10.5, color="#555", anchor="left")

# ---------- E ----------
xn, yn = axes((0, 2080, 1560, 3636), [0, 1568], [1568, 0])
NODES = {}
for grp in (C1, C4, C2, C3):
    for name, x, y in grp:
        NODES[name] = (x, y)


def edges(pairs, color, width, dash="solid"):
    ex, ey = [], []
    for p in pairs:
        a, b = p.split("-")
        ex += [NODES[a][0], NODES[b][0], None]
        ey += [NODES[a][1], NODES[b][1], None]
    fig.add_trace(go.Scatter(x=ex, y=ey, xaxis=xn, yaxis=yn, mode="lines", line=dict(color=color, width=width, dash=dash), hoverinfo="skip"))


edges(E_DOT, "#a8a8b8", 1.2, "dot")
edges(E_WEAK, "#d4d6e2", 1.6)
edges(E_MID, "#a8accb", 2.2)
edges(E_STRONG, "#666e96", 3)
for grp, col, top, edge in [(C1, "#d95a5e", "#f2b8b8", "#a84346"), (C4, "#82ade3", "#d0e2f7", "#5f84b6"),
                            (C2, "#cfd77f", "#f2f4c8", "#a0a65c"), (C3, "#48b07e", "#abe0c6", "#38875f")]:
    fig.add_trace(go.Scatter(x=[n[1] for n in grp], y=[n[2] for n in grp], text=[n[0] for n in grp], xaxis=xn, yaxis=yn,
                             mode="markers+text", textposition="top right", textfont=dict(family=FONT, size=7.5, color="#444"),
                             marker=dict(size=25, color=col, line=dict(color=edge, width=1.5),
                                         gradient=dict(type="vertical", color=top)), hoverinfo="skip"))


def round_box(x0, y0, x1, y1, r, color, lw=6):
    p = (f"M{x0+r},{y0} L{x1-r},{y0} Q{x1},{y0} {x1},{y0+r} L{x1},{y1-r} Q{x1},{y1} {x1-r},{y1} "
         f"L{x0+r},{y1} Q{x0},{y1} {x0},{y1-r} L{x0},{y0+r} Q{x0},{y0} {x0+r},{y0} Z")
    shapes.append(dict(type="path", xref=xn, yref=yn, path=p, fillcolor="white", line=dict(color=color, width=lw), layer="below"))


def callout(box, color, cx, rows):
    round_box(*box, 48, color)
    for i, (y, s) in enumerate(rows):
        text(cx, y, s, 44, bold=(i == 0), xref=xn, yref=yn)


callout((1116, 100, 1478, 306), "#d96a6e", 1295, [(151, "Cluster 1"), (206, "Membrane"), (260, "transporters")])
callout((20, 268, 486, 563), "#7e9cc9", 253, [(337, "Cluster 4"), (391, "Regulation of"), (446, "cell growth and"), (500, "death")])
callout((46, 822, 425, 1032), "#f4e5a6", 235, [(875, "Cluster 2"), (930, "Damage"), (984, "response")])
callout((1047, 1220, 1563, 1478), "#86bfa0", 1304, [(1270, "Cluster 3"), (1324, "Mitochondrial"), (1379, "translation and"), (1433, "mineral absorption")])

# ---------- F ----------
labfont2 = dict(family=FONT, size=39, color="#111", weight="bold")
hbars(F_GROUPS, F_COLORS, 1.556, (2534.5, 2373, 2948, 2847), [0, 60], [0, 20, 40, 60], 0.765, 0.765, 0.57, labfont2, ticklen=7)
text(2742.5, 2924, "Fold-Enrichment", 37.5, bold=True)
for name, y0 in zip(F_LEGEND, [2371, 2406, 2440, 2475]):
    rect(2804, y0, 2848, y0 + 18.5, fill=F_COLORS[name], line="#555", lw=2.5, layer="above")
    text(2871, y0 + 9.5, name, 29, color="#333", anchor="left")

layout["shapes"] = shapes
layout["annotations"] = notes
fig.update_layout(**layout)
fig.write_html("out.html", post_script="document.body.style.margin='0';", config={"displayModeBar": False})
